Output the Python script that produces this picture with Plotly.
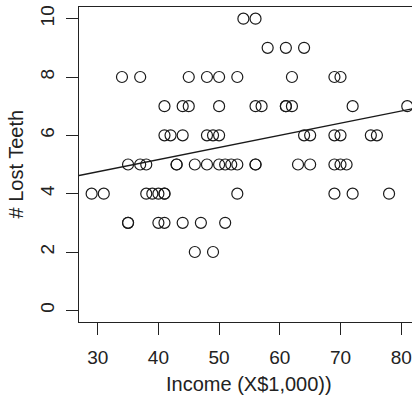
import numpy as np
import plotly.graph_objects as go

# Household income (thousands of dollars) and number of lost teeth
income = [
    54, 56,
    58, 61, 64,
    34, 37, 45, 48, 50, 53, 62, 69, 70,
    41, 44, 45, 50, 56, 57, 61, 61, 62, 72, 81,
    41, 42, 44, 48, 49, 50, 64, 65, 69, 70, 75, 76,
    35, 37, 38, 43, 43, 46, 48, 50, 51, 52, 53, 56, 56, 63, 65, 69, 70, 71,
    29, 31, 38, 39, 40, 41, 41, 53, 69, 72, 78,
    35, 35, 40, 41, 44, 47, 51,
    46, 49,
]
lost_teeth = [
    10, 10,
    9, 9, 9,
    8, 8, 8, 8, 8, 8, 8, 8, 8,
    7, 7, 7, 7, 7, 7, 7, 7, 7, 7, 7,
    6, 6, 6, 6, 6, 6, 6, 6, 6, 6, 6, 6,
    5, 5, 5, 5, 5, 5, 5, 5, 5, 5, 5, 5, 5, 5, 5, 5, 5, 5,
    4, 4, 4, 4, 4, 4, 4, 4, 4, 4, 4,
    3, 3, 3, 3, 3, 3, 3,
    2, 2,
]

x_ticks = [30, 40, 50, 60, 70, 80]
y_ticks = [0, 2, 4, 6, 8, 10]
x_range = [26.92, 81.78]
y_range = [-0.4, 10.4]

# Least-squares fit drawn across the whole plotting region
slope, intercept = np.polyfit(income, lost_teeth, 1)
fit_x = np.array(x_range)
fit_y = intercept + slope * fit_x

font = "Liberation Sans, Arial, Helvetica, sans-serif"
ink = "#1a1a1a"

fig = go.Figure()
fig.add_trace(go.Scatter(
    x=income, y=lost_teeth, mode="markers",
    marker=dict(symbol="circle-open", size=11, color=ink,
                line=dict(width=1.2, color=ink)),
    hoverinfo="x+y", showlegend=False,
))
fig.add_trace(go.Scatter(
    x=fit_x, y=fit_y, mode="lines",
    line=dict(color=ink, width=1.3),
    hoverinfo="skip", showlegend=False,
))

fig.update_layout(
    width=412, height=396,
    margin=dict(l=79, r=0, t=7, b=74),
    paper_bgcolor="white", plot_bgcolor="white",
    font=dict(family=font, size=19, color="#222"),
    xaxis=dict(
        range=x_range, tickvals=x_ticks, ticktext=[str(v) for v in x_ticks],
        showgrid=False, zeroline=False,
        showline=True, linecolor="#222", linewidth=1.2, mirror=True,
        ticks="outside", ticklen=12, tickwidth=1.2, tickcolor="#222",
        ticklabelstandoff=6,
    ),
    yaxis=dict(
        range=y_range, tickvals=y_ticks, ticktext=[str(v) for v in y_ticks],
        showgrid=False, zeroline=False,
        showline=True, linecolor="#222", linewidth=1.2, mirror=False,
        ticks="outside", ticklen=12, tickwidth=1.2, tickcolor="#222",
        tickangle=-90, ticklabelstandoff=4,
    ),
    annotations=[
        dict(text="Income (X$1,000))", xref="paper", yref="paper",
             x=(249 - 79) / 333, y=-(384 - 322) / 315,
             xanchor="center", yanchor="middle", showarrow=False,
             font=dict(size=20)),
        dict(text="# Lost Teeth", xref="paper", yref="paper",
             x=-(79 - 15) / 333, y=0.5, textangle=-90,
             xanchor="center", yanchor="middle", showarrow=False,
             font=dict(size=20)),
    ],
)

fig.write_html("out.html")
